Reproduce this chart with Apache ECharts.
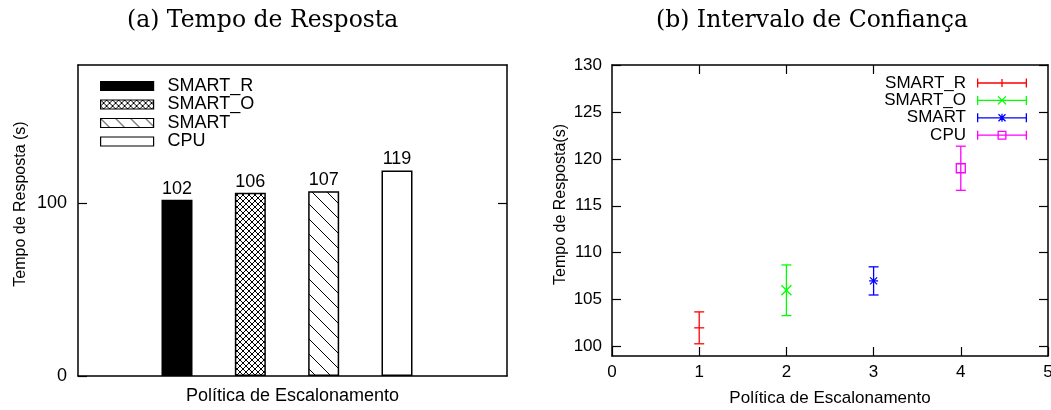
<!DOCTYPE html>
<html>
<head>
<meta charset="utf-8">
<script src="https://cdn.jsdelivr.net/npm/echarts@6/dist/echarts.min.js"></script>
<style>
  html, body { margin: 0; padding: 0; background: #fff; }
  #chart { width: 1051px; height: 410px; }
</style>
</head>
<body>
<div id="chart"></div>
<script>
// (a) Tempo de Resposta
const policies = ['SMART_R', 'SMART_O', 'SMART', 'CPU']
const barPos = [1, 2, 3, 4]
const meanTime = [102, 106, 107, 119]
const leftYTicks = [0, 100]

// (b) Intervalo de Confiança
const ciX = [1, 2, 3, 4]
const ciMean = [102, 106, 107, 119]
const ciHalf = [1.7, 2.7, 1.5, 2.35]
const rightYTicks = [100, 105, 110, 115, 120, 125, 130]
const rightTopTicks = [1, 2, 3]

const FONT = 'Liberation Sans'
const ciColors = ['#ff0000', '#00ff00', '#0000ff', '#ff00ff']

// padroes de preenchimento das barras
function hatch(size, lines) {
  const c = document.createElement('canvas')
  c.width = size
  c.height = size
  const g = c.getContext('2d')
  g.fillStyle = '#fff'
  g.fillRect(0, 0, size, size)
  g.strokeStyle = '#000'
  g.lineWidth = 1
  g.beginPath()
  for (let k = -1; k <= 1; k++) {
    g.moveTo(k * size, 0)
    g.lineTo(k * size + size, size)
    if (lines > 1) {
      g.moveTo(k * size + size, 0)
      g.lineTo(k * size, size)
    }
  }
  g.stroke()
  return { image: c, repeat: 'repeat' }
}
const barFills = ['#000', hatch(6, 2), hatch(15, 1), '#fff']

// icones da legenda (b): barra de erro com marcador
function poly(pts, neg) {
  let a = 0
  for (let i = 0; i < pts.length; i++) {
    const p = pts[i], q = pts[(i + 1) % pts.length]
    a += p[0] * q[1] - q[0] * p[1]
  }
  if ((a < 0) !== !!neg) pts = pts.slice().reverse()
  return 'M' + pts.map(p => p[0].toFixed(2) + ' ' + p[1].toFixed(2)).join('L') + 'Z'
}
function seg(x1, y1, x2, y2, w) {
  const dx = x2 - x1, dy = y2 - y1, L = Math.hypot(dx, dy)
  const nx = -dy / L * w / 2, ny = dx / L * w / 2
  return poly([[x1 + nx, y1 + ny], [x2 + nx, y2 + ny], [x2 - nx, y2 - ny], [x1 - nx, y1 - ny]])
}
const LW = 1.3
const iconBase = seg(0, 4.5, 50, 4.5, LW) + seg(LW / 2, 0, LW / 2, 9, LW) + seg(50 - LW / 2, 0, 50 - LW / 2, 9, LW)
const iconMarks = [
  seg(25, 0.5, 25, 8.5, LW),
  seg(21, 0.5, 29, 8.5, LW) + seg(29, 0.5, 21, 8.5, LW),
  seg(25, 0.5, 25, 8.5, LW) + seg(21.5, 1, 28.5, 8, LW) + seg(28.5, 1, 21.5, 8, LW),
  poly([[20.5, 0], [29.5, 0], [29.5, 9], [20.5, 9]]) +
    poly([[20.5 + LW, LW], [29.5 - LW, LW], [29.5 - LW, 9 - LW], [20.5 + LW, 9 - LW]], true)
]

function renderCI(kind, color) {
  return function (params, api) {
    const x = api.value(0), m = api.value(1), h = api.value(2)
    const c = api.coord([x, m])
    const t = api.coord([x, m + h])
    const b = api.coord([x, m - h])
    const st = { stroke: color, lineWidth: LW, fill: null }
    const ln = (x1, y1, x2, y2) => ({ type: 'line', shape: { x1, y1, x2, y2 }, style: st })
    const ch = [
      ln(c[0], t[1], c[0], b[1]),
      ln(c[0] - 5, t[1], c[0] + 5, t[1]),
      ln(c[0] - 5, b[1], c[0] + 5, b[1])
    ]
    const s = 5
    if (kind === 0) {
      ch.push(ln(c[0] - s, c[1], c[0] + s, c[1]))
    } else if (kind === 1) {
      ch.push(ln(c[0] - s, c[1] - s, c[0] + s, c[1] + s), ln(c[0] - s, c[1] + s, c[0] + s, c[1] - s))
    } else if (kind === 2) {
      const r = 4.5, d = 3.5
      ch.push(ln(c[0] - r, c[1], c[0] + r, c[1]),
        ln(c[0] - d, c[1] - d, c[0] + d, c[1] + d), ln(c[0] - d, c[1] + d, c[0] + d, c[1] - d))
    } else {
      ch.push({ type: 'rect', shape: { x: c[0] - 4.5, y: c[1] - 4.5, width: 9, height: 9 }, style: st })
    }
    return { type: 'group', children: ch }
  }
}

const axisLine = { show: true, onZero: false, lineStyle: { color: '#000', width: 1.5 } }
const tickIn = (vals) => ({ show: true, inside: true, length: 9, customValues: vals, lineStyle: { color: '#000', width: 1.2 } })
const none = { show: false }

const chart = echarts.init(document.getElementById('chart'))

chart.setOption({
  animation: false,
  textStyle: { fontFamily: FONT, color: '#000' },
  title: [
    { text: '(a) Tempo de Resposta', left: 122, top: 4,
      textStyle: { fontFamily: 'DejaVu Serif', fontSize: 23.5, fontWeight: 'normal', color: '#000' } },
    { text: '(b) Intervalo de Confiança', left: 651, top: 4,
      textStyle: { fontFamily: 'DejaVu Serif', fontSize: 23.5, fontWeight: 'normal', color: '#000' } }
  ],
  legend: [
    {
      left: 100, top: 77, orient: 'vertical', padding: 0, itemGap: 0.5,
      itemWidth: 53, itemHeight: 9, selectedMode: false,
      textStyle: { fontSize: 18, fontFamily: FONT, color: '#000', padding: [0, 0, 0, 9] },
      data: policies.map((p, i) => ({
        name: p, icon: 'rect',
        itemStyle: { color: barFills[i], borderColor: '#000', borderWidth: 1.2 }
      }))
    },
    {
      right: 24, top: 74.5, orient: 'vertical', align: 'right', padding: 0, itemGap: 0.4,
      itemWidth: 50, itemHeight: 9, selectedMode: false,
      textStyle: { fontSize: 17, fontFamily: FONT, color: '#000', padding: [0, 6, 0, 0] },
      data: policies.map((p, i) => ({
        name: p, icon: 'path://' + iconBase + iconMarks[i],
        itemStyle: { color: ciColors[i], borderWidth: 0, opacity: 1 }
      }))
    }
  ],
  grid: [
    { left: 78, right: 544, top: 65, bottom: 34, outerBoundsMode: 'none', containLabel: false },
    { left: 612, right: 3, top: 65, bottom: 54, outerBoundsMode: 'none', containLabel: false }
  ],
  xAxis: [
    {
      type: 'value', gridIndex: 0, min: -0.35, max: 5.5,
      axisLine, axisTick: none, axisLabel: none, splitLine: none,
      name: 'Política de Escalonamento', nameLocation: 'middle', nameGap: 11,
      nameTextStyle: { fontSize: 18, color: '#000' }
    },
    {
      type: 'value', gridIndex: 0, position: 'top', min: -0.35, max: 5.5,
      axisLine, axisTick: none, axisLabel: none, splitLine: none
    },
    {
      type: 'value', gridIndex: 1, min: 0, max: 5, interval: 1,
      axisLine, axisTick: tickIn([0, 1, 2, 3, 4, 5]), splitLine: none,
      axisLabel: { fontSize: 17, color: '#000', margin: 8 },
      name: 'Política de Escalonamento', nameLocation: 'middle', nameGap: 34,
      nameTextStyle: { fontSize: 17, color: '#000' }
    },
    {
      type: 'value', gridIndex: 1, position: 'top', min: 0, max: 5,
      axisLine, axisTick: tickIn(rightTopTicks), axisLabel: none, splitLine: none
    }
  ],
  yAxis: [
    {
      type: 'value', gridIndex: 0, min: 0, max: 180,
      axisLine, axisTick: tickIn(leftYTicks), splitLine: none,
      axisLabel: { customValues: leftYTicks, fontSize: 18, color: '#000', margin: 11 },
      name: 'Tempo de Resposta (s)', nameLocation: 'middle', nameGap: 49,
      nameTextStyle: { fontSize: 16, color: '#000', padding: [0, 0, 0, 33] }
    },
    {
      type: 'value', gridIndex: 0, position: 'right', min: 0, max: 180,
      axisLine, axisTick: tickIn([100]), axisLabel: none, splitLine: none
    },
    {
      type: 'value', gridIndex: 1, min: 99, max: 130,
      axisLine, axisTick: tickIn(rightYTicks), splitLine: none,
      axisLabel: { customValues: rightYTicks, fontSize: 17, color: '#000', margin: 10 },
      name: 'Tempo de Resposta(s)', nameLocation: 'middle', nameGap: 43,
      nameTextStyle: { fontSize: 16, color: '#000', padding: [0, 0, 0, 12] }
    },
    {
      type: 'value', gridIndex: 1, position: 'right', min: 99, max: 130,
      axisLine, axisTick: tickIn(rightYTicks), axisLabel: none, splitLine: none
    }
  ],
  series: [
    ...policies.map((p, i) => ({
      name: p, type: 'bar', xAxisIndex: 0, yAxisIndex: 0,
      barWidth: 31, barGap: '-100%',
      data: [[barPos[i], meanTime[i]]],
      itemStyle: { color: barFills[i], borderColor: '#000', borderWidth: 1.5 },
      label: { show: true, position: 'top', distance: 2, fontSize: 18, color: '#000',
        formatter: (d) => d.value[1] }
    })),
    ...policies.map((p, i) => ({
      name: p, type: 'custom', xAxisIndex: 2, yAxisIndex: 2,
      data: [[ciX[i], ciMean[i], ciHalf[i]]],
      itemStyle: { color: ciColors[i] },
      renderItem: renderCI(i, ciColors[i])
    }))
  ]
})
</script>
</body>
</html>
